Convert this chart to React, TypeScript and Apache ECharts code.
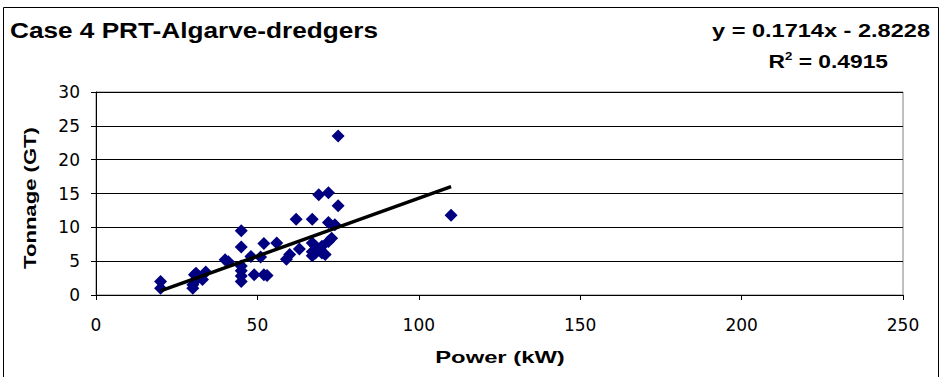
import React, { useEffect, useRef } from "react";
import * as echarts from "echarts";

const title = "Case 4 PRT-Algarve-dredgers";
const xName = "Power (kW)";
const yName = "Tonnage (GT)";
const slope = 0.1714;
const intercept = -2.8228;
const r2 = "0.4915";
const trendRange = [20, 110];

const powerKW = [
  20, 20, 30, 30, 31, 31, 32, 33, 34, 30.5,
  40, 41, 45, 45, 45, 45, 45, 45,
  48, 49, 51, 52, 52, 53, 56,
  59, 60, 62, 63,
  67, 67, 67, 67, 68, 68, 69,
  70, 70, 71, 72, 72, 72, 73, 74, 75, 75,
  110,
];
const tonnageGT = [
  2.0, 1.0, 1.0, 1.5, 2.2, 3.2, 2.7, 2.3, 3.4, 3.0,
  5.2, 4.9, 9.5, 7.1, 4.3, 3.6, 2.8, 2.0,
  5.7, 3.0, 5.6, 3.0, 7.6, 2.9, 7.7,
  5.3, 6.0, 11.2, 6.8,
  11.2, 7.7, 6.4, 5.8, 7.2, 6.2, 14.8,
  7.2, 6.2, 6.0, 15.1, 10.7, 7.9, 8.4, 10.4, 13.2, 23.5,
  11.8,
];

export default function App() {
  const ref = useRef<HTMLDivElement>(null);
  useEffect(() => {
    if (!ref.current) return;
    const chart = echarts.init(ref.current, null, { renderer: "svg" });
    const font = "'Liberation Sans', Arial, sans-serif";
    const tickFont = "'DejaVu Sans', sans-serif";
    const points = powerKW.map((x, i) => [x, tonnageGT[i]]);
    const trend = trendRange.map((x) => [x, slope * x + intercept]);
    chart.setOption({
      animation: false,
      backgroundColor: "#ffffff",
      grid: {
        left: 96,
        right: 39,
        top: 92,
        bottom: 82,
        show: true,
        borderColor: "#808080",
        borderWidth: 1,
        backgroundColor: "#ffffff",
      },
      graphic: [
        {
          type: "rect",
          shape: { x: 3.5, y: 7.5, width: 935, height: 380 },
          style: { fill: "none", stroke: "#000", lineWidth: 1 },
          silent: true,
          z: 0,
        },
        {
          type: "text",
          x: 10,
          y: 30,
          scaleX: 1.19,
          style: {
            text: title,
            font: `bold 22px ${font}`,
            fill: "#000",
            align: "left",
            verticalAlign: "middle",
          },
        },
        {
          type: "text",
          x: 930,
          y: 31,
          scaleX: 1.24,
          style: {
            text: `y = ${slope}x - ${Math.abs(intercept)}`,
            font: `bold 19px ${font}`,
            fill: "#000",
            align: "right",
            verticalAlign: "middle",
          },
        },
        {
          type: "text",
          x: 888,
          y: 61,
          scaleX: 1.2,
          style: {
            text: `{a|R}{s|2}{a| = ${r2}}`,
            align: "right",
            verticalAlign: "middle",
            rich: {
              a: { font: `bold 19px ${font}`, fill: "#000" },
              s: { font: `bold 11px ${font}`, fill: "#000", verticalAlign: "top", padding: [0, 0, 10, 0] },
            },
          },
        },
        {
          type: "text",
          x: 500,
          y: 357,
          scaleX: 1.4,
          style: {
            text: xName,
            font: `bold 17px ${font}`,
            fill: "#000",
            align: "center",
            verticalAlign: "middle",
          },
        },
        {
          type: "text",
          x: 30,
          y: 198,
          rotation: Math.PI / 2,
          scaleX: 1.3,
          style: {
            text: yName,
            font: `bold 17px ${font}`,
            fill: "#000",
            align: "center",
            verticalAlign: "middle",
          },
        },
      ],
      xAxis: {
        type: "value",
        min: 0,
        max: 250,
        interval: 50,
        axisLine: { show: true, onZero: false, lineStyle: { color: "#000", width: 1 } },
        axisTick: { show: true, length: 5, lineStyle: { color: "#000" } },
        axisLabel: { fontFamily: tickFont, fontSize: 17, color: "#000", margin: 21 },
        splitLine: { show: false },
      },
      yAxis: {
        type: "value",
        min: 0,
        max: 30,
        interval: 5,
        axisLine: { show: true, onZero: false, lineStyle: { color: "#000", width: 1 } },
        axisTick: { show: true, length: 5, lineStyle: { color: "#000" } },
        axisLabel: { fontFamily: tickFont, fontSize: 17, color: "#000", margin: 16 },
        splitLine: { show: true, lineStyle: { color: "#000", width: 1 } },
      },
      series: [
        {
          type: "scatter",
          data: points,
          symbol: "diamond",
          symbolSize: 13,
          itemStyle: { color: "#000080", opacity: 1 },
          z: 2,
        },
        {
          type: "line",
          data: trend,
          showSymbol: false,
          symbol: "none",
          lineStyle: { color: "#000", width: 3.5 },
          z: 3,
        },
      ],
    });
    return () => chart.dispose();
  }, []);
  return (
    <div
      ref={ref}
      style={{ position: "fixed", left: 0, top: 0, width: 942, height: 377 }}
    />
  );
}
